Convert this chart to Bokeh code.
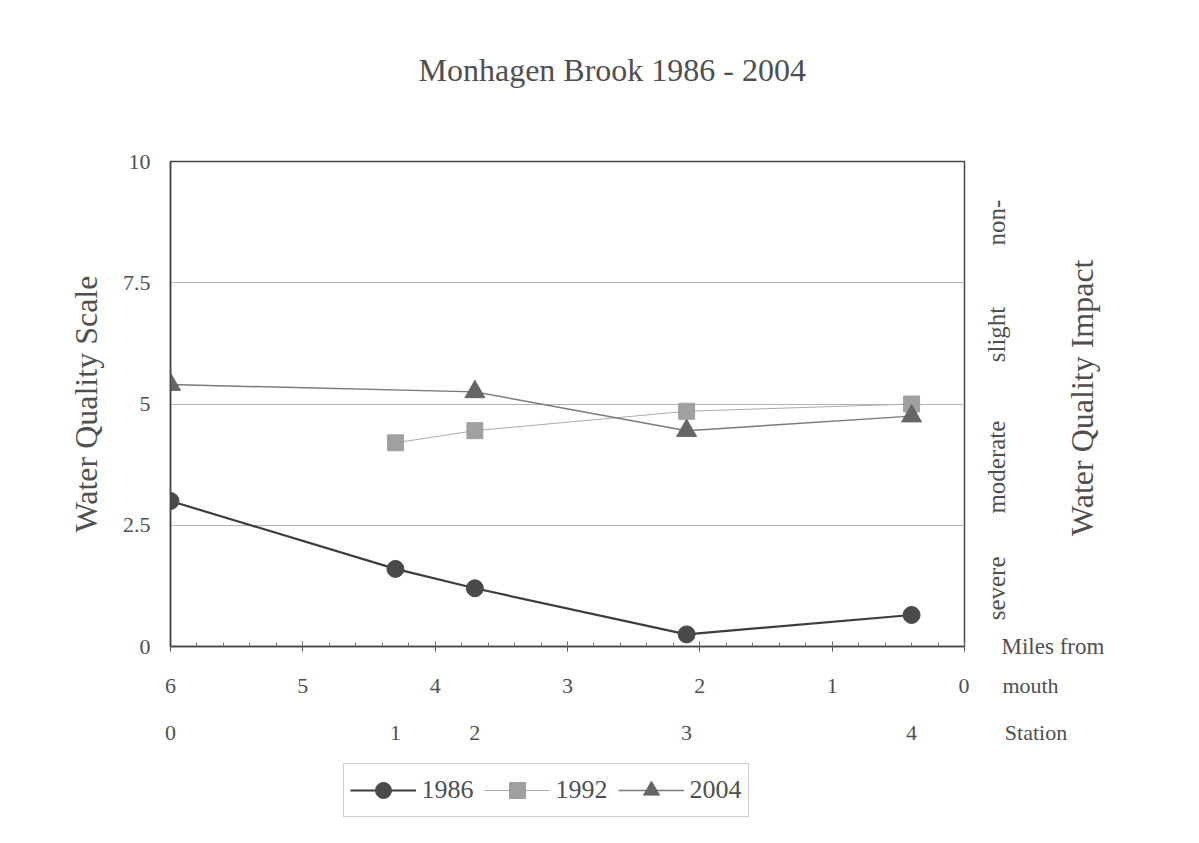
from bokeh.plotting import figure
from bokeh.models import (Range1d, LinearAxis, FixedTicker, SingleIntervalTicker, Title,
                          Legend, LegendItem, ColumnDataSource, Grid)
from bokeh.layouts import column
from bokeh.embed import file_html
from bokeh.resources import INLINE
import math

# ---------------- data ----------------
title_text = "Monhagen Brook 1986 - 2004"
miles = [6.0, 4.3, 3.7, 2.1, 0.4]          # station positions, miles from mouth
stations = ["0", "1", "2", "3", "4"]
years = ["1986", "1992", "2004"]
q1986 = [3.0, 1.6, 1.2, 0.25, 0.65]
q1992 = [None, 4.2, 4.45, 4.85, 5.0]
q2004 = [5.4, None, 5.25, 4.45, 4.75]
y_ticks = [0, 2.5, 5, 7.5, 10]
y_tick_labels = ["0", "2.5", "5", "7.5", "10"]
impact_levels = ["severe", "moderate", "slight", "non-"]
impact_label_start = [0.54, 2.74, 5.86, 8.27]   # where each rotated label begins
impact_title = "Water Quality Impact"
impact_title_start = 2.28

FONT = "Liberation Serif"
TXT = "#4f4f4f"
EM = "\u2003"
EN = "\u2002"

p = figure(width=1181, height=747, output_backend="svg", toolbar_location=None,
           x_range=Range1d(6, 0), y_range=Range1d(0, 10),
           x_axis_type=None, y_axis_type=None,
           min_border_left=170, min_border_right=217, min_border_top=161, min_border_bottom=101,
           background_fill_color="white", border_fill_color="white",
           outline_line_color="#454545", outline_line_width=1.5)

# ---- title (spacer row nearest the frame, then the title) ----
p.add_layout(Title(text=" ", text_font_size="10px", standoff=56), "above")
p.add_layout(Title(text=title_text, align="left", offset=248, text_font=FONT,
                   text_font_size="32px", text_font_style="normal", text_color=TXT), "above")

# ---- y axis ----
yaxis = LinearAxis(ticker=FixedTicker(ticks=y_ticks),
                   major_label_overrides=dict(zip(y_ticks, y_tick_labels)),
                   axis_label="Water Quality Scale")
yaxis.axis_line_color = "#454545"
yaxis.axis_line_width = 1.5
yaxis.major_tick_in = 0
yaxis.major_tick_out = 0
yaxis.minor_tick_line_color = None
yaxis.major_label_standoff = 20
yaxis.major_label_text_font = FONT
yaxis.major_label_text_font_size = "22px"
yaxis.major_label_text_color = TXT
yaxis.axis_label_text_font = FONT
yaxis.axis_label_text_font_size = "32px"
yaxis.axis_label_text_font_style = "normal"
yaxis.axis_label_text_color = TXT
yaxis.axis_label_standoff = 16
p.add_layout(yaxis, "left")

# ---- x axis: miles from mouth ----
xaxis = LinearAxis(ticker=SingleIntervalTicker(interval=1, num_minor_ticks=5),
                   major_label_overrides={0: EM * 4 + "0" + EM + EN + "mouth"})
xaxis.axis_line_color = "#454545"
xaxis.axis_line_width = 1.5
xaxis.major_tick_in = 5
xaxis.major_tick_out = 5
xaxis.major_tick_line_color = "#555555"
xaxis.minor_tick_in = 4
xaxis.minor_tick_out = 0
xaxis.minor_tick_line_color = "#777777"
xaxis.major_label_standoff = 21
xaxis.major_label_text_font = FONT
xaxis.major_label_text_font_size = "22px"
xaxis.major_label_text_color = TXT
p.add_layout(xaxis, "below")

# ---- station axis ----
st_over = dict(zip(miles, stations))
st_over[0] = EM * 6 + EN + "Station"
saxis = LinearAxis(ticker=FixedTicker(ticks=miles + [0]), major_label_overrides=st_over)
saxis.axis_line_color = None
saxis.major_tick_line_color = None
saxis.minor_tick_line_color = None
saxis.major_label_standoff = 13
saxis.major_label_text_font = FONT
saxis.major_label_text_font_size = "22px"
saxis.major_label_text_color = TXT
p.add_layout(saxis, "below")


def bare_right_axis(ticks, labels, size, standoff, orientation=None):
    ax = LinearAxis(ticker=FixedTicker(ticks=ticks), major_label_overrides=dict(zip(ticks, labels)))
    if orientation is not None:
        ax.major_label_orientation = orientation
    ax.axis_line_color = None
    ax.major_tick_line_color = None
    ax.minor_tick_line_color = None
    ax.major_label_standoff = standoff
    ax.major_label_text_font = FONT
    ax.major_label_text_font_size = size
    ax.major_label_text_color = TXT
    p.add_layout(ax, "right")
    return ax


# right: impact levels, then "Miles from", then the impact title
bare_right_axis(impact_label_start, impact_levels, "25px", 26, math.pi / 2)
bare_right_axis([0], ["Miles from"], "23px", -31)
bare_right_axis([impact_title_start], [impact_title], "32px", -31, math.pi / 2)

# ---- grid ----
p.add_layout(Grid(dimension=1, ticker=FixedTicker(ticks=y_ticks),
                  grid_line_color="#b3b3b3", grid_line_width=1))

# ---- series ----
styles = [
    dict(vals=q1986, marker="circle", size=17, fill="#4a4a4a", line="#3d3d3d", lw=2.2),
    dict(vals=q1992, marker="square", size=16, fill="#a0a0a0", line="#ababab", lw=1),
    dict(vals=q2004, marker="triangle", size=20, fill="#666666", line="#7a7a7a", lw=1.5),
]
sources = []
for st in styles:
    xs = [m for m, v in zip(miles, st["vals"]) if v is not None]
    ys = [v for v in st["vals"] if v is not None]
    src = ColumnDataSource(dict(x=xs, y=ys))
    sources.append(src)
    p.line("x", "y", source=src, line_color=st["line"], line_width=st["lw"])
    p.scatter("x", "y", source=src, marker=st["marker"], size=st["size"],
              fill_color=st["fill"], line_color=st["fill"])

# ---- legend (own strip below the chart; its series lie outside its empty view) ----
lf = figure(width=1138, height=86, output_backend="svg", toolbar_location=None,
            x_range=Range1d(100, 101), y_range=Range1d(100, 101),
            x_axis_type=None, y_axis_type=None,
            min_border_left=0, min_border_right=0, min_border_top=0, min_border_bottom=0,
            outline_line_color=None, background_fill_color="white", border_fill_color="white")
items = []
for yr, st, src in zip(years, styles, sources):
    ln = lf.line("x", "y", source=src, line_color=st["line"], line_width=st["lw"])
    sc = lf.scatter("x", "y", source=src, marker=st["marker"], size=st["size"],
                    fill_color=st["fill"], line_color=st["fill"])
    items.append(LegendItem(label=yr, renderers=[ln, sc]))
legend = Legend(items=items, orientation="horizontal", location="center",
                label_text_font=FONT, label_text_font_size="26px", label_text_color=TXT,
                glyph_width=66, glyph_height=40, label_standoff=6, spacing=10,
                padding=6, margin=0, border_line_color="#999999", border_line_width=1,
                background_fill_color="white", background_fill_alpha=1)
lf.add_layout(legend)

open("out.html", "w").write(file_html(column(p, lf), INLINE))
